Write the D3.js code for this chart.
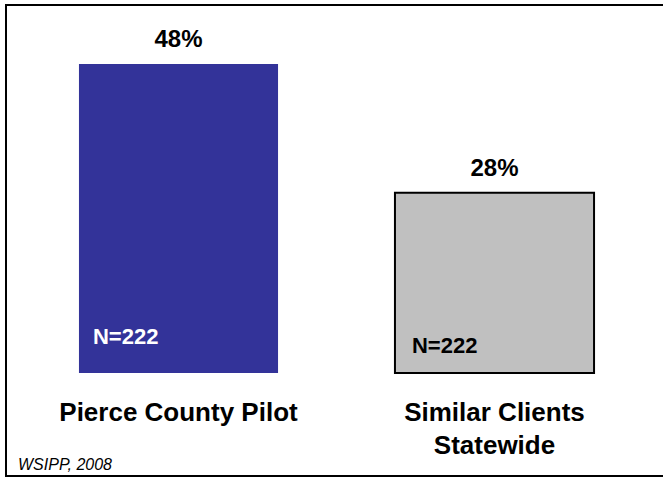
<!DOCTYPE html>
<html>
<head>
<meta charset="utf-8">
<script src="https://cdn.jsdelivr.net/npm/d3@7"></script>
<style>
  html, body { margin: 0; padding: 0; background: #fff; }
  svg { display: block; }
  text { font-family: Arial, "Liberation Sans", Helvetica, sans-serif; }
</style>
</head>
<body>
<svg id="chart" width="663" height="477"></svg>
<script>
const categories = ["Pierce County Pilot", "Similar Clients Statewide"];
const categoryLines = [["Pierce County Pilot"], ["Similar Clients", "Statewide"]];
const values = [48, 28];
const valueLabels = ["48%", "28%"];
const nLabels = ["N=222", "N=222"];
const source = "WSIPP, 2008";

const svg = d3.select("#chart");
const W = 663, H = 477;

svg.append("rect").attr("width", W).attr("height", H).attr("fill", "#fff");

// frame
svg.append("rect")
  .attr("x", 6).attr("y", 5).attr("width", 720).attr("height", 471)
  .attr("fill", "none").attr("stroke", "#000").attr("stroke-width", 2);

const x = d3.scaleBand().domain(categories).range([20.5, 652.5])
  .paddingInner(0.37).paddingOuter(0.185);
const y = d3.scaleLinear().domain([0, 50]).range([373, 373 - 50 * 6.4375]);

const fills = ["#333399", "#C0C0C0"];
const strokes = ["none", "#000"];

const g = svg.append("g");
g.selectAll("rect.bar").data(categories).join("rect")
  .attr("class", "bar")
  .attr("x", d => x(d))
  .attr("width", x.bandwidth())
  .attr("y", (d, i) => y(values[i]))
  .attr("height", (d, i) => y(0) - y(values[i]))
  .attr("fill", (d, i) => fills[i])
  .attr("stroke", (d, i) => strokes[i])
  .attr("stroke-width", 2);

// value labels
g.selectAll("text.val").data(categories).join("text")
  .attr("class", "val")
  .attr("x", d => x(d) + x.bandwidth() / 2)
  .attr("y", (d, i) => y(values[i]) - 17)
  .attr("text-anchor", "middle")
  .attr("font-weight", "bold")
  .attr("font-size", 24)
  .attr("fill", "#000")
  .text((d, i) => valueLabels[i]);

// N labels
const nOffsetX = [14, 17];
const nBaseline = [344, 353];
const nColor = ["#fff", "#000"];
g.selectAll("text.n").data(categories).join("text")
  .attr("class", "n")
  .attr("x", (d, i) => x(d) + nOffsetX[i])
  .attr("y", (d, i) => nBaseline[i])
  .attr("font-weight", "bold")
  .attr("font-size", 22)
  .attr("fill", (d, i) => nColor[i])
  .text((d, i) => nLabels[i]);

// category labels
categories.forEach((c, i) => {
  const t = g.append("text")
    .attr("x", x(c) + x.bandwidth() / 2)
    .attr("y", 421)
    .attr("text-anchor", "middle")
    .attr("font-weight", "bold")
    .attr("font-size", 26)
    .attr("fill", "#000");
  categoryLines[i].forEach((line, j) => {
    t.append("tspan")
      .attr("x", x(c) + x.bandwidth() / 2)
      .attr("dy", j === 0 ? 0 : 32.5)
      .text(line);
  });
});

// source
svg.append("text")
  .attr("x", 18).attr("y", 470)
  .attr("font-style", "italic")
  .attr("font-size", 16)
  .attr("fill", "#000")
  .text(source);
</script>
</body>
</html>
